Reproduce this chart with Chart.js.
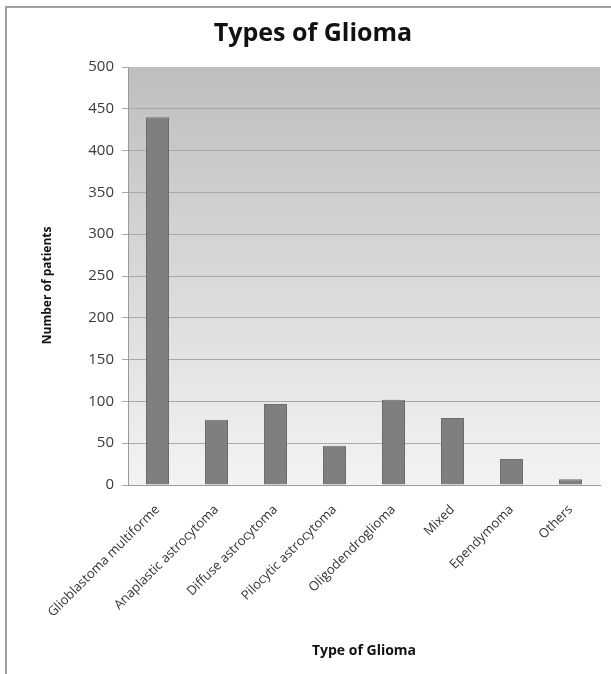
<!DOCTYPE html>
<html>
<head>
<meta charset="utf-8">
<script src="https://cdn.jsdelivr.net/npm/chart.js@4/dist/chart.umd.min.js"></script>
<style>
  html, body { margin: 0; padding: 0; background: #fff; }
  #wrap { position: relative; width: 611px; height: 674px; }
</style>
</head>
<body>
<div id="wrap"><canvas id="c" width="611" height="674"></canvas></div>
<script>
// Data
const categories = [
  'Glioblastoma multiforme', 'Anaplastic astrocytoma', 'Diffuse astrocytoma',
  'Pilocytic astrocytoma', 'Oligodendroglioma', 'Mixed', 'Ependymoma', 'Others'
];
const patients = [440, 78, 97, 47, 102, 80, 31, 7];
const yTicks = [0, 50, 100, 150, 200, 250, 300, 350, 400, 450, 500];

const FONT = "'Open Sans', 'DejaVu Sans', sans-serif";

// Excel-style grey gradient behind the plot area, plus the frame lines.
const plotBackground = {
  id: 'plotBackground',
  beforeDraw(chart) {
    const { ctx, chartArea: a } = chart;
    const g = ctx.createLinearGradient(0, a.top, 0, a.bottom);
    g.addColorStop(0, '#bebebe');
    g.addColorStop(1, '#f3f3f3');
    ctx.save();
    ctx.fillStyle = '#ffffff';
    ctx.fillRect(0, 0, chart.width, chart.height);
    ctx.fillStyle = g;
    ctx.fillRect(a.left, a.top, a.right - a.left, a.bottom - a.top);
    ctx.restore();
  },
  afterDraw(chart) {
    const { ctx } = chart;
    ctx.save();
    ctx.strokeStyle = '#a0a0a0';
    ctx.lineWidth = 2;
    ctx.beginPath();
    ctx.moveTo(6, chart.height);
    ctx.lineTo(6, 7);
    ctx.lineTo(chart.width, 7);
    ctx.stroke();
    ctx.restore();
  }
};

new Chart(document.getElementById('c'), {
  type: 'bar',
  data: {
    labels: categories,
    datasets: [{
      data: patients,
      backgroundColor: '#7f7f7f',
      borderColor: '#6c6c6c',
      borderWidth: 1,
      barPercentage: 0.39,
      categoryPercentage: 1
    }]
  },
  options: {
    responsive: false,
    animation: false,
    layout: { padding: { left: 26, right: 11, top: 0, bottom: 0 } },
    plugins: {
      legend: { display: false },
      tooltip: { enabled: false },
      title: {
        display: true,
        text: 'Types of Glioma',
        color: '#111',
        font: { family: FONT, size: 25, weight: 'bold' },
        padding: { top: 19, bottom: 18 }
      }
    },
    scales: {
      x: {
        grid: { display: false },
        border: { display: true, color: '#9a9a9a', width: 1 },
        ticks: {
          color: '#333',
          font: { family: FONT, size: 13 },
          minRotation: 45,
          maxRotation: 45,
          padding: 9
        },
        title: {
          display: true,
          text: 'Type of Glioma',
          color: '#111',
          font: { family: FONT, size: 14, weight: 'bold' },
          padding: { top: 0, bottom: 15 }
        },
        afterFit(scale) { scale.height = 674 - 485; }
      },
      y: {
        min: 0,
        max: 500,
        afterBuildTicks(scale) { scale.ticks = yTicks.map(v => ({ value: v })); },
        grid: {
          color: ctx => (ctx.tick && ctx.tick.value === 500 ? 'rgba(0,0,0,0)' : '#a8a8a8'),
          tickColor: '#a8a8a8',
          lineWidth: 1,
          tickLength: 6,
          drawTicks: true
        },
        border: { display: true, color: '#9a9a9a', width: 1 },
        ticks: {
          color: '#3a3a3a',
          font: { family: FONT, size: 15 },
          padding: 8
        },
        title: {
          display: true,
          // trailing spaces nudge the centred label down like the original
          text: 'Number of patients      ',
          color: '#111',
          font: { family: FONT, size: 12, weight: 'bold' },
          padding: { top: 14, bottom: 0 }
        },
        afterFit(scale) { scale.width = 102; }
      }
    }
  },
  plugins: [plotBackground]
});
</script>
</body>
</html>
